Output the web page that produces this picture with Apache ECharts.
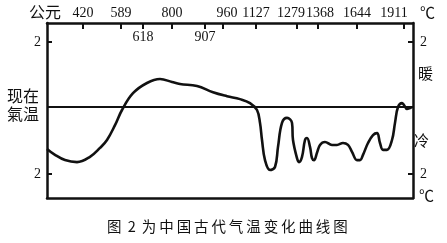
<!DOCTYPE html>
<html><head><meta charset="utf-8">
<script src="https://cdn.jsdelivr.net/npm/echarts@6/dist/echarts.min.js"></script>
<style>html,body{margin:0;padding:0;background:#fff}#c{width:447px;height:243px}</style>
</head><body><div id="c"></div>
<script>
// Schematic time position (x) of each labelled year on the top axis
const yearLabels = ['420','589','800','960','1127','1279','1368','1644','1911'];
const yearPos    = [36, 74, 125, 176, 209, 250, 271, 310, 357];
const innerLabels = ['618','907'];
const innerPos    = [96, 158];
// Temperature anomaly relative to present (°C), at schematic positions
const posX = [0,8,18,30,43,53,60,68,75,86,100,113,125,133,150,166,180,193,203,210,213,215,218,223,228,231,235,240,245,246,250,252,255,258,260,263,265,267,270,273,278,285,290,296,301,305,310,313,316,321,326,330,333,336,340,345,348,351,355,357,360,363,365];
const temp = [-1.24,-1.42,-1.58,-1.64,-1.48,-1.21,-0.97,-0.52,-0.06,0.45,0.76,0.88,0.79,0.73,0.67,0.48,0.36,0.27,0.15,-0.06,-0.45,-0.97,-1.58,-1.88,-1.79,-1.18,-0.45,-0.30,-0.45,-0.97,-1.52,-1.64,-1.48,-0.97,-0.91,-1.18,-1.52,-1.58,-1.36,-1.12,-1.03,-1.12,-1.12,-1.06,-1.12,-1.33,-1.58,-1.58,-1.42,-1.06,-0.82,-0.76,-1.06,-1.27,-1.27,-0.97,-0.45,0.03,0.15,0.09,-0.03,0,0.03];
const yTicks = [-2, 2];

const ink = '#111';
const serif = '"Liberation Serif","DejaVu Serif",serif';
const cjk = '"Noto Sans CJK SC","Noto Sans CJK TC",sans-serif';

const chart = echarts.init(document.getElementById('c'));
const labelMap = {}; yearPos.forEach((p,i)=>labelMap[p]=yearLabels[i]);
const allTicks = yearPos.concat(innerPos).sort((a,b)=>a-b);
// small hand-lettering nudges of a few labels (style only)
const nudge = {'960':'r','1279':'l','1368':'rs','1911':'ll'};
const lbl = {fontFamily:serif, fontSize:14, color:ink};
const frame = {show:true, onZero:false, lineStyle:{color:ink, width:2.5}};

const staticText = [
  {type:'text', left:29, top:4, style:{text:'公元', font:'16px '+cjk, fill:ink}},
  {type:'text', left:420, top:5, style:{text:'℃', font:'15px '+cjk, fill:ink}},
  {type:'text', left:419, top:188, style:{text:'℃', font:'15px '+cjk, fill:ink}},
  {type:'text', left:418, top:66, style:{text:'暖', font:'15px '+cjk, fill:ink}},
  {type:'text', left:414, top:133, style:{text:'冷', font:'15px '+cjk, fill:ink}},
  {type:'text', left:7, top:88, style:{text:'现在', font:'16px '+cjk, fill:ink}},
  {type:'text', left:7, top:106, style:{text:'氣温', font:'16px '+cjk, fill:ink}},
  {type:'text', left:107, top:219, style:{text:'图\u2009 2\u2009 为\u2009中\u2009国\u2009古\u2009代\u2009气\u2009温\u2009变\u2009化\u2009曲\u2009线\u2009图', font:'14.5px '+cjk, fill:ink}}
];

chart.setOption({
  animation:false,
  backgroundColor:'#fff',
  grid:{left:47, top:23, right:34, bottom:45, show:false},
  xAxis:[{
    type:'value', position:'top', min:0, max:366,
    splitLine:{show:false}, axisLine:frame,
    axisTick:{show:true, inside:true, length:6, lineStyle:{color:ink, width:2}, customValues: allTicks},
    axisLabel:{show:true, margin:3, color:ink, fontFamily:serif, fontSize:14,
      customValues: yearPos,
      formatter:v=>{const t=labelMap[v]||''; const n=nudge[t]; return n?('{'+n+'|'+t+'}'):t;},
      rich:{
        r:Object.assign({padding:[0,0,0,8]},lbl),
        rs:Object.assign({padding:[0,0,0,4]},lbl),
        l:Object.assign({padding:[0,12,0,0]},lbl),
        ll:Object.assign({padding:[0,20,0,0]},lbl)
      }}
  },{
    type:'value', position:'bottom', min:0, max:366,
    splitLine:{show:false}, axisLine:frame, axisTick:{show:false}, axisLabel:{show:false}
  }],
  yAxis:[{
    type:'value', position:'left', min:-2.73, max:2.58,
    splitLine:{show:false}, axisLine:frame,
    axisTick:{show:true, inside:true, length:5, lineStyle:{color:ink,width:2}, customValues:yTicks},
    axisLabel:{show:true, margin:6, color:ink, fontFamily:serif, fontSize:14, customValues:yTicks, formatter:v=>String(Math.abs(v))}
  },{
    type:'value', position:'right', min:-2.73, max:2.58,
    splitLine:{show:false}, axisLine:frame,
    axisTick:{show:true, inside:true, length:5, lineStyle:{color:ink,width:2}, customValues:yTicks},
    axisLabel:{show:true, margin:7, color:ink, fontFamily:serif, fontSize:14, customValues:yTicks, formatter:v=>String(Math.abs(v))}
  }],
  series:[{
    type:'line', xAxisIndex:0, yAxisIndex:0,
    data: posX.map((x,i)=>[x,temp[i]]),
    smooth:0.4, showSymbol:false, symbol:'none',
    lineStyle:{color:ink, width:2.6},
    markLine:{silent:true, symbol:'none', label:{show:false},
      lineStyle:{color:ink, width:2, type:'solid'},
      data:[{yAxis:0.03}]}
  }],
  graphic: staticText
});

// second-row year labels (618, 907) placed under their ticks through the x scale
const innerText = innerPos.map((p,i)=>{
  const px = chart.convertToPixel({xAxisIndex:0}, p);
  return {type:'text', x:px, y:30, style:{text:innerLabels[i], font:'14px '+serif, fill:ink, align:'center', verticalAlign:'top'}};
});
chart.setOption({graphic: staticText.concat(innerText)});
</script></body></html>
